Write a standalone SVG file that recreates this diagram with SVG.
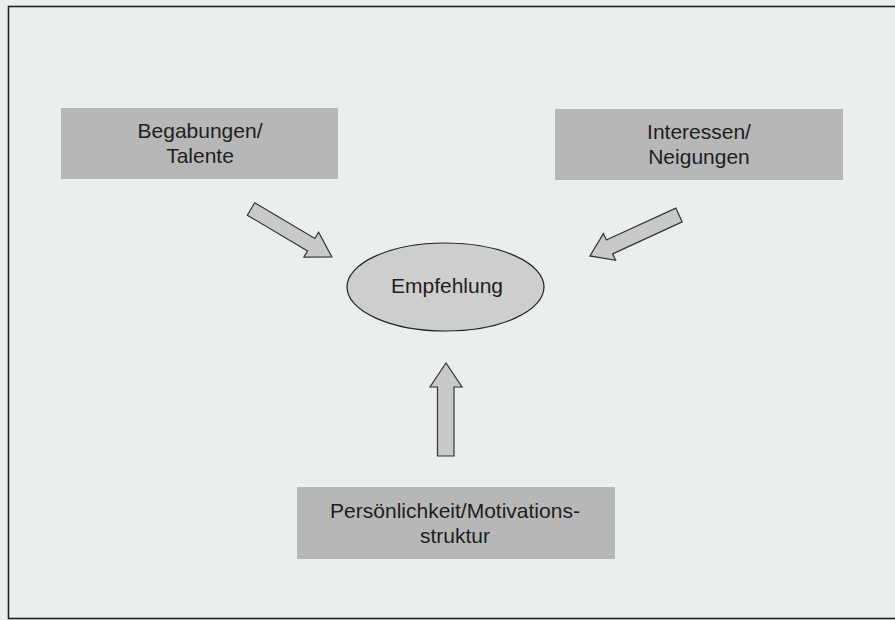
<svg xmlns="http://www.w3.org/2000/svg" width="895" height="620" viewBox="0 0 895 620">
  <style>
    .box { fill: #b6b7b6; }
    .lbl { font-family: "Liberation Sans", Arial, sans-serif; font-size: 21px; fill: #1e1e1e; text-anchor: middle; }
    .arrow { fill: #c8c9c8; stroke: #333; stroke-width: 1.2; stroke-linejoin: miter; }
  </style>
  <rect x="0" y="0" width="895" height="620" fill="#eaeeec"/>
  <rect x="8.5" y="6.5" width="900" height="612" fill="none" stroke="#222" stroke-width="1.6"/>

  <g id="begabungen">
    <rect class="box" x="61" y="108" width="277" height="71"/>
    <text class="lbl" x="200" y="138">Begabungen/</text>
    <text class="lbl" x="200" y="163">Talente</text>
  </g>

  <g id="interessen">
    <rect class="box" x="555" y="109" width="288" height="71"/>
    <text class="lbl" x="699" y="139">Interessen/</text>
    <text class="lbl" x="699" y="164">Neigungen</text>
  </g>

  <g id="persoenlichkeit">
    <rect class="box" x="297" y="487" width="318" height="72"/>
    <text class="lbl" x="455" y="518">Persönlichkeit/Motivations-</text>
    <text class="lbl" x="455" y="543">struktur</text>
  </g>

  <g id="empfehlung">
    <ellipse cx="445.5" cy="287" rx="98.5" ry="44" fill="#cdcecd" stroke="#222" stroke-width="1.2"/>
    <text class="lbl" x="447" y="293">Empfehlung</text>
  </g>

  <g id="connectors">
    <path class="arrow" transform="translate(251,209) rotate(30.65)" d="M0,-7.2 L70,-7.2 L70,-14.5 L94,0 L70,14.5 L70,7.2 L0,7.2 Z"/>
    <path class="arrow" transform="translate(679,215) rotate(155.3)" d="M0,-7.6 L76.5,-7.6 L76.5,-14.7 L98,0 L76.5,14.7 L76.5,7.6 L0,7.6 Z"/>
    <path class="arrow" d="M437.5,456 L437.5,387 L430,387 L446,363 L462,387 L454,387 L454,456 Z"/>
  </g>
</svg>
